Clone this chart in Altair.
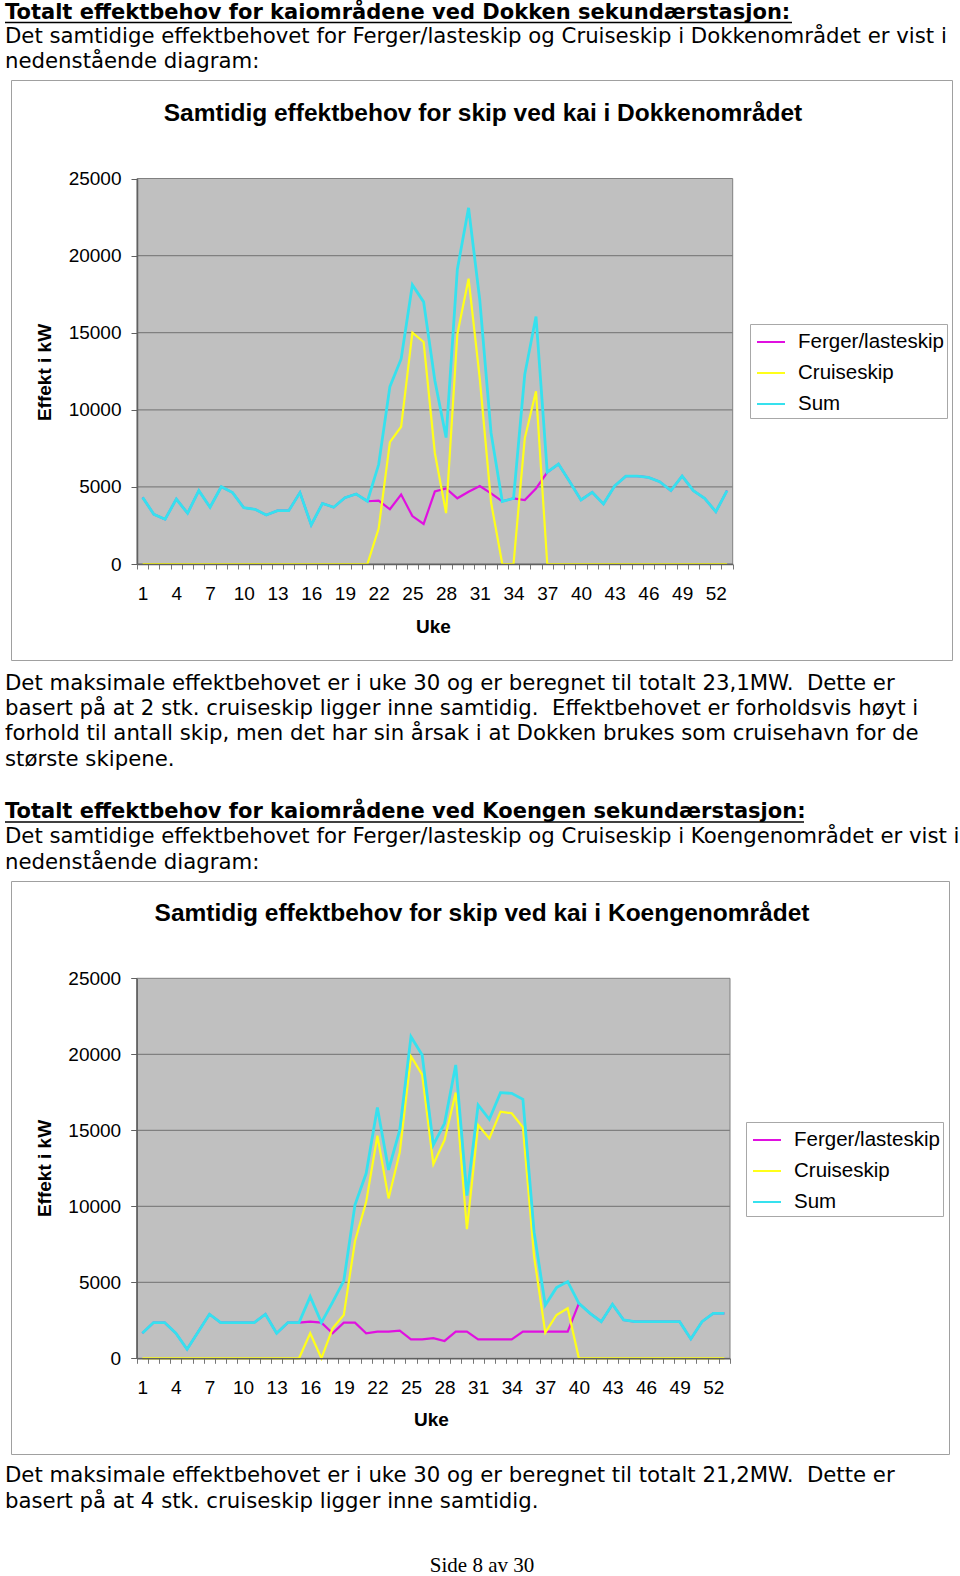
import altair as alt
import pandas as pd

# ---------------- data ----------------
weeks = list(range(1, 54))
series_names = ["Ferger/lasteskip", "Cruiseskip", "Sum"]
series_colors = ["#E010E0", "#FFFF1A", "#36E1EE"]
y_ticks = [0, 5000, 10000, 15000, 20000, 25000]

dokken_ferger = [4320, 3220, 2900, 4210, 3290, 4760, 3680, 5010, 4630, 3650,
                 3550, 3180, 3460, 3460, 4630, 2530, 3930, 3680, 4300, 4540,
                 4070, 4110, 3550, 4500, 3110, 2600, 4700, 4900, 4260, 4690,
                 5060, 4580, 4060, 4250, 4150, 4900, 5950, 6480, 5340, 4150,
                 4650, 3890, 5060, 5700, 5700, 5620, 5340, 4760, 5700, 4760,
                 4260, 3390, 4760]
dokken_cruise = [0, 0, 0, 0, 0, 0, 0, 0, 0, 0,
                 0, 0, 0, 0, 0, 0, 0, 0, 0, 0,
                 0, 2300, 7900, 8900, 15000, 14400, 7200, 3300, 14900, 18500,
                 12000, 4000, 0, 0, 8150, 11200, 0, 0, 0, 0,
                 0, 0, 0, 0, 0, 0, 0, 0, 0, 0,
                 0, 0, 0]
dokken_sum = [4320, 3220, 2900, 4210, 3290, 4760, 3680, 5010, 4630, 3650,
              3550, 3180, 3460, 3460, 4630, 2530, 3930, 3680, 4300, 4540,
              4070, 6450, 11500, 13300, 18100, 17000, 11900, 8200, 19100, 23100,
              17100, 8500, 4060, 4250, 12300, 16050, 5950, 6480, 5340, 4150,
              4650, 3890, 5060, 5700, 5700, 5620, 5340, 4760, 5700, 4760,
              4260, 3390, 4760]

koengen_ferger = [1650, 2350, 2350, 1650, 590, 1750, 2900, 2350, 2350, 2350,
                  2350, 2900, 1650, 2350, 2350, 2410, 2350, 1650, 2350, 2350,
                  1650, 1750, 1750, 1820, 1250, 1250, 1320, 1140, 1750, 1750,
                  1250, 1250, 1250, 1250, 1750, 1750, 1750, 1750, 1750, 3620,
                  2960, 2410, 3550, 2520, 2410, 2410, 2410, 2410, 2410, 1270,
                  2410, 2960, 2960]
koengen_cruise = [0, 0, 0, 0, 0, 0, 0, 0, 0, 0,
                  0, 0, 0, 0, 0, 1650, 0, 1970, 2850, 7700,
                  10300, 14640, 10520, 13560, 19870, 18660, 12770, 14360, 17480, 8490,
                  15350, 14470, 16230, 16120, 15200, 6690, 1690, 2850, 3290, 0,
                  0, 0, 0, 0, 0, 0, 0, 0, 0, 0,
                  0, 0, 0]
koengen_sum = [1650, 2350, 2350, 1650, 590, 1750, 2900, 2350, 2350, 2350,
               2350, 2900, 1650, 2350, 2350, 4060, 2350, 3700, 5100, 10100,
               12170, 16500, 12390, 15020, 21160, 19950, 14040, 15460, 19300, 10700,
               16670, 15720, 17480, 17430, 17040, 8300, 3500, 4650, 5050, 3620,
               2960, 2410, 3550, 2520, 2410, 2410, 2410, 2410, 2410, 1270,
               2410, 2960, 2960]

# ---------------- texts ----------------
NB = "\u00a0"
heading_1 = "Totalt effektbehov for kaiområdene ved Dokken sekundærstasjon:"
intro_1 = ["Det samtidige effektbehovet for Ferger/lasteskip og Cruiseskip i Dokkenområdet er vist i",
           "nedenstående diagram:"]
title_1 = "Samtidig effektbehov for skip ved kai i Dokkenområdet"
after_1 = ["Det maksimale effektbehovet er i uke 30 og er beregnet til totalt 23,1MW." + NB + " Dette er",
           "basert på at 2 stk. cruiseskip ligger inne samtidig." + NB + " Effektbehovet er forholdsvis høyt i",
           "forhold til antall skip, men det har sin årsak i at Dokken brukes som cruisehavn for de",
           "største skipene."]
heading_2 = "Totalt effektbehov for kaiområdene ved Koengen sekundærstasjon:"
intro_2 = ["Det samtidige effektbehovet for Ferger/lasteskip og Cruiseskip i Koengenområdet er vist i",
           "nedenstående diagram:"]
title_2 = "Samtidig effektbehov for skip ved kai i Koengenområdet"
after_2 = ["Det maksimale effektbehovet er i uke 30 og er beregnet til totalt 21,2MW." + NB + " Dette er",
           "basert på at 4 stk. cruiseskip ligger inne samtidig."]
footer = "Side 8 av 30"
y_title = "Effekt i kW"
x_title = "Uke"

BODY = "DejaVu Sans"
CHART = "Liberation Sans"
BODY_SIZE = 21.25
W, H = 960, 1576
one = pd.DataFrame({"k": [0]})


def text(s, x, y, size=BODY_SIZE, font=BODY, weight="normal", align="left"):
    return alt.Chart(pd.DataFrame({"t": [s]})).mark_text(
        align=align, baseline="middle", font=font, fontSize=size,
        fontWeight=weight, color="black"
    ).encode(text="t:N", x=alt.value(x), y=alt.value(y))


def hline(x0, x1, y, color="black", width=1.5):
    return alt.Chart(one).mark_rule(color=color, strokeWidth=width).encode(
        x=alt.value(x0), x2=alt.value(x1), y=alt.value(y))


def box(x0, x1, y0, y1, fill, stroke, sw=1):
    return alt.Chart(one).mark_rect(fill=fill, stroke=stroke, strokeWidth=sw).encode(
        x=alt.value(x0), x2=alt.value(x1), y=alt.value(y0), y2=alt.value(y1))


x_bounds = [w - 0.5 for w in weeks] + [weeks[-1] + 0.5]


def panel(ferger, cruise, total, frame, plot, title, title_pos, ytitle_pos,
          xtitle_pos, legend_pos):
    fx0, fx1, fy0, fy1 = frame
    px0, px1, py0, py1 = plot
    rows = []
    for name, vals in zip(series_names, [ferger, cruise, total]):
        for w, v in zip(weeks, vals):
            rows.append({"week": w, "series": name, "value": v})
    df = pd.DataFrame(rows)

    xs = alt.Scale(domain=[0.5, 53.5], range=[px0, px1], nice=False, zero=False)
    ys = alt.Scale(domain=[0, 25000], range=[py1, py0], nice=False)
    xaxis = alt.Axis(
        orient="bottom", offset=py1 - H, values=x_bounds,
        labelExpr="(datum.value + 0.5) % 3 == 1 ? format(datum.value + 0.5, 'd') : ''",
        labelOffset=(px1 - px0) / 106, labelFont=CHART, labelFontSize=19,
        labelColor="black", labelPadding=15, labelOverlap=False, labelFlush=False,
        tickSize=5, tickColor="#777777", tickWidth=1,
        domainColor="#606060", domainWidth=1.5, grid=False,
        title=x_title, titleFont=CHART, titleFontSize=19, titleFontWeight="bold",
        titleColor="black", titleX=xtitle_pos[0], titleY=xtitle_pos[1] - py1,
        titleAlign="center", titleBaseline="middle", titleAngle=0, zindex=1)
    yaxis = alt.Axis(
        orient="left", offset=-px0, values=y_ticks, format="d", grid=False,
        labelFont=CHART, labelFontSize=19, labelColor="black", labelPadding=10,
        tickSize=6, tickColor="#606060", domainColor="#606060", domainWidth=1.5,
        title=y_title, titleFont=CHART, titleFontSize=19, titleFontWeight="bold",
        titleColor="black", titleX=ytitle_pos[0] - px0, titleY=ytitle_pos[1],
        titleAngle=270, titleAlign="center", titleBaseline="middle", zindex=1)
    cscale = alt.Scale(domain=series_names, range=series_colors)
    leg = alt.Legend(
        orient="none", legendX=legend_pos[0], legendY=legend_pos[1], title=None,
        direction="vertical", symbolType="stroke", symbolStrokeWidth=2,
        symbolSize=784, symbolOffset=3, labelFont=CHART, labelFontSize=20.5,
        labelColor="black", labelOffset=12, strokeColor="#A8A8A8",
        fillColor="white", padding=3, rowPadding=5, labelLimit=300)

    grid = alt.Chart(pd.DataFrame({"g": y_ticks[1:-1]})).mark_rule(
        color="#808080", strokeWidth=1.2
    ).encode(
        y=alt.Y("g:Q", scale=ys, axis=yaxis),
        x=alt.X(datum=0.5, type="quantitative", scale=xs, axis=xaxis),
        x2=alt.X2(datum=53.5),
    )
    widths = {"Ferger/lasteskip": 2.2, "Cruiseskip": 2.2, "Sum": 2.8}
    lines = []
    for name in series_names:
        lines.append(
            alt.Chart(df).transform_filter(alt.datum.series == name)
            .mark_line(strokeWidth=widths[name])
            .encode(
                x=alt.X("week:Q", scale=xs, axis=xaxis),
                y=alt.Y("value:Q", scale=ys, axis=yaxis),
                color=alt.Color("series:N", scale=cscale, legend=leg),
            )
        )
    deco = [
        box(fx0, fx1, fy0, fy1, "white", "#A0A0A0"),
        box(px0, px1, py0, py1, "#C0C0C0", "#808080"),
        text(title, title_pos[0], title_pos[1], size=24.5, font=CHART,
             weight="bold", align="center"),
    ]
    return deco, alt.layer(grid, *lines)


deco1, chart1 = panel(dokken_ferger, dokken_cruise, dokken_sum,
                      frame=(11.5, 952.5, 80.5, 660.5),
                      plot=(137, 732.7, 178.5, 564),
                      title=title_1, title_pos=(483, 113.6),
                      ytitle_pos=(44, 372), xtitle_pos=(433, 626),
                      legend_pos=(750, 324))
deco2, chart2 = panel(koengen_ferger, koengen_cruise, koengen_sum,
                      frame=(11.5, 949.5, 881.5, 1454.5),
                      plot=(136.7, 730, 978.3, 1358.3),
                      title=title_2, title_pos=(482, 913.5),
                      ytitle_pos=(44, 1168), xtitle_pos=(431, 1419),
                      legend_pos=(746, 1122))

page = [
    text(heading_1, 5, 12.5, size=21, weight="bold"),
    hline(5, 792, 22.5),
    text(intro_1[0], 5, 36.5),
    text(intro_1[1], 5, 62),
    text(after_1[0], 5, 683.5),
    text(after_1[1], 5, 708.5),
    text(after_1[2], 5, 734),
    text(after_1[3], 5, 760),
    text(heading_2, 5, 811.5, size=21, weight="bold"),
    hline(5, 804, 822),
    text(intro_2[0], 5, 836.5),
    text(intro_2[1], 5, 862.5),
    text(after_2[0], 5, 1475.5),
    text(after_2[1], 5, 1501.5),
    text(footer, 482, 1566, size=21, font="Liberation Serif", align="center"),
]

chart = (
    alt.layer(*deco1, *deco2, *page, chart1, chart2)
    .resolve_scale(x="independent", y="independent", color="independent")
    .resolve_legend(color="independent")
    .properties(width=W, height=H, autosize=alt.AutoSizeParams(type="none"), padding=0)
    .configure(background="white")
    .configure_view(stroke=None)
)

chart.save("out.html", embed_options={"renderer": "svg", "actions": False})
